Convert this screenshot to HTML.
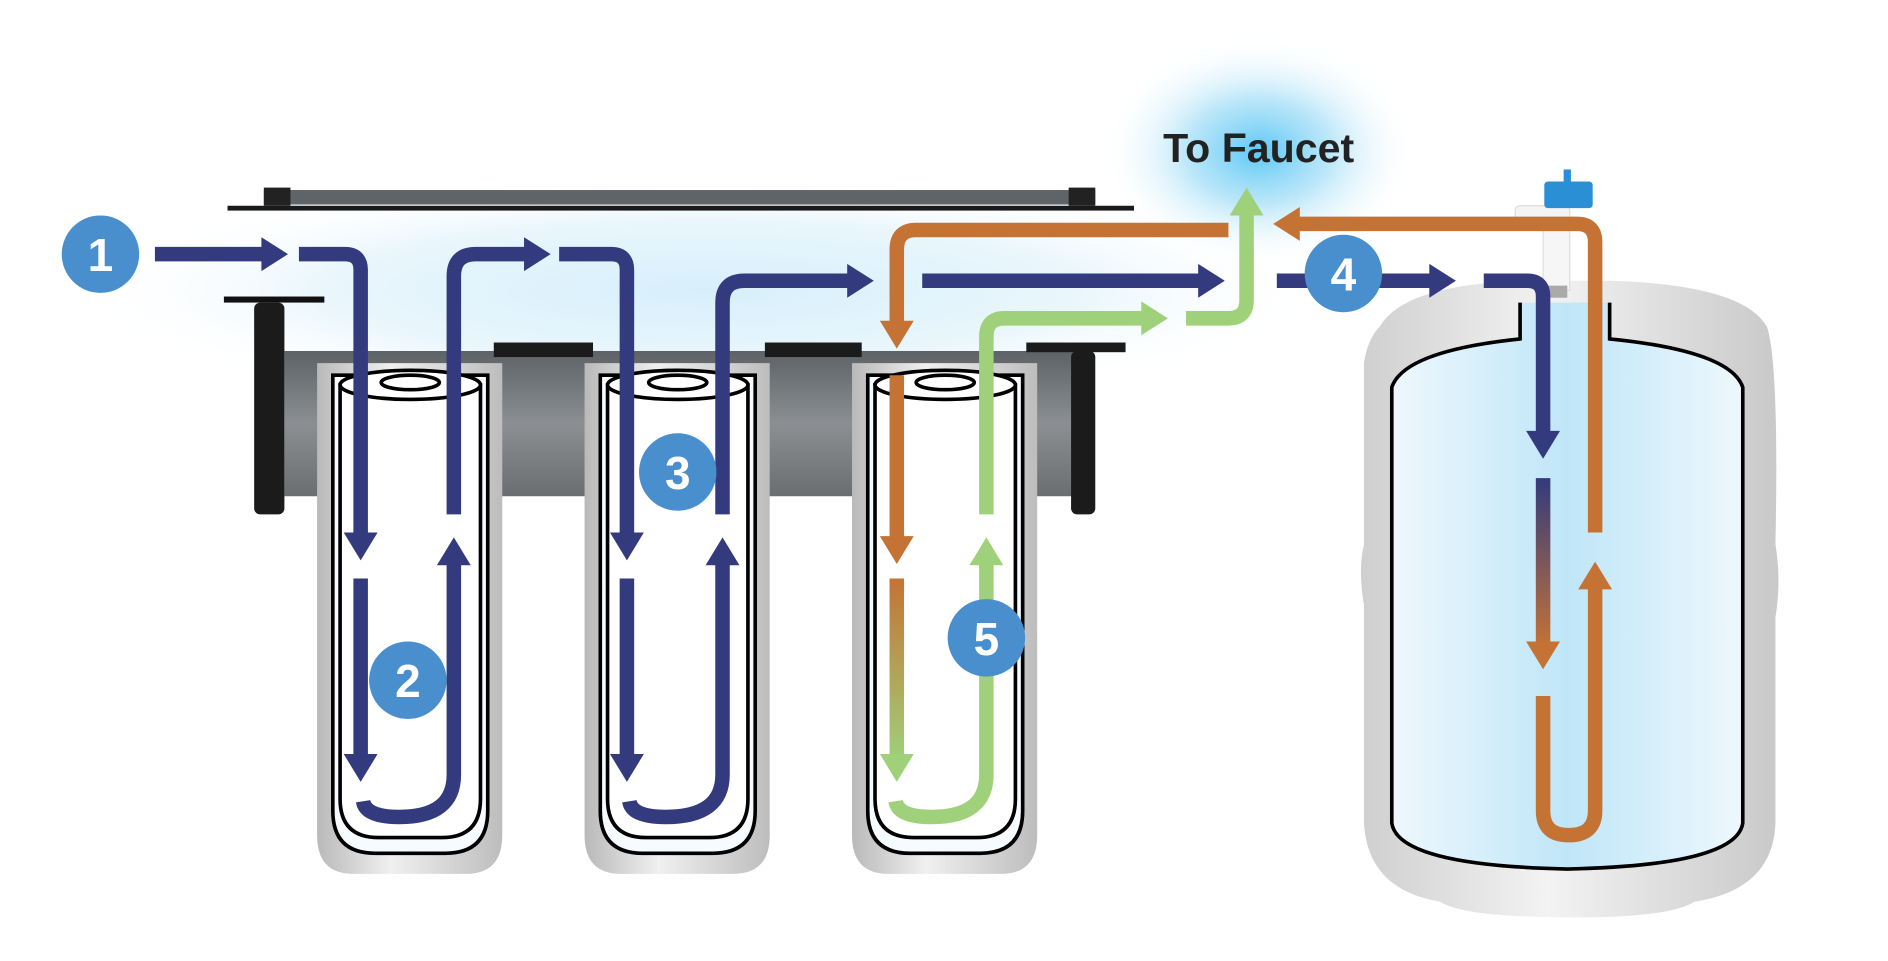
<!DOCTYPE html>
<html><head><meta charset="utf-8"><style>
html,body{margin:0;padding:0;background:#fff;width:1888px;height:961px;overflow:hidden}
svg{display:block}
.t{font-family:"Liberation Sans",sans-serif;font-weight:bold}
</style></head><body>
<svg width="1888" height="961" viewBox="0 0 1560 794" preserveAspectRatio="none" xmlns="http://www.w3.org/2000/svg">
<defs>
<radialGradient id="glow" cx="0.5" cy="0.5" r="0.5"><stop offset="0" stop-color="#5cc8f5"/><stop offset="0.45" stop-color="#a9e0f8" stop-opacity="0.8"/><stop offset="1" stop-color="#fff" stop-opacity="0"/></radialGradient>
<radialGradient id="fog" cx="0.5" cy="0.5" r="0.5"><stop offset="0" stop-color="#d6effb"/><stop offset="0.6" stop-color="#e4f4fc" stop-opacity="0.8"/><stop offset="1" stop-color="#fff" stop-opacity="0"/></radialGradient>
<linearGradient id="hous" x1="0" y1="0" x2="1" y2="0"><stop offset="0" stop-color="#b9b9b9"/><stop offset="0.4" stop-color="#f0f0f0"/><stop offset="1" stop-color="#bdbdbd"/></linearGradient>
<linearGradient id="tankg" x1="0" y1="0" x2="1" y2="0"><stop offset="0" stop-color="#cfcfcf"/><stop offset="0.45" stop-color="#f3f3f3"/><stop offset="1" stop-color="#c9c9c9"/></linearGradient>
<linearGradient id="tankin" x1="0" y1="0" x2="1" y2="0"><stop offset="0" stop-color="#eef8fd"/><stop offset="0.5" stop-color="#bfe6f8"/><stop offset="1" stop-color="#eef8fd"/></linearGradient>
<linearGradient id="brk" x1="0" y1="0" x2="0" y2="1"><stop offset="0" stop-color="#5d6266"/><stop offset="0.5" stop-color="#8b8f92"/><stop offset="1" stop-color="#6a6e71"/></linearGradient>
<linearGradient id="no" gradientUnits="userSpaceOnUse" x1="0" y1="395" x2="0" y2="535"><stop offset="0" stop-color="#333a7e"/><stop offset="1" stop-color="#c47335"/></linearGradient>
<linearGradient id="og" gradientUnits="userSpaceOnUse" x1="0" y1="478" x2="0" y2="630"><stop offset="0" stop-color="#c47335"/><stop offset="1" stop-color="#9fd17a"/></linearGradient>
</defs>
<ellipse cx="1040" cy="125" rx="130" ry="95" fill="url(#glow)"/>
<ellipse cx="580" cy="240" rx="520" ry="95" fill="url(#fog)"/>
<!-- top bar -->
<rect x="218" y="157" width="687" height="12" fill="#5f6468"/>
<rect x="218" y="155" width="22" height="15" fill="#222"/><rect x="883" y="155" width="22" height="15" fill="#222"/>
<rect x="188" y="170" width="749" height="4" fill="#1a1a1a"/>
<!-- bracket -->
<rect x="185" y="245" width="83" height="5" fill="#111"/>
<rect x="210" y="250" width="25" height="175" rx="5" fill="#1b1b1b"/>
<rect x="235" y="290" width="655" height="120" fill="url(#brk)"/>
<rect x="408" y="283" width="82" height="12" fill="#1b1b1b"/>
<rect x="632" y="283" width="80" height="12" fill="#1b1b1b"/>
<rect x="848" y="283" width="82" height="8" fill="#1b1b1b"/>
<rect x="885" y="290" width="20" height="135" rx="5" fill="#1b1b1b"/>
<!-- filters -->
<g id="f1">
<path d="M262,300 H415 V690 Q415,722 385,722 H292 Q262,722 262,690 Z" fill="url(#hous)"/>
<path d="M275,310 H403 V670 Q403,705 368,705 H310 Q275,705 275,670 Z" fill="#f5fbfe" stroke="#000" stroke-width="3"/>
<path d="M281,318 H397 V660 Q397,692 365,692 H313 Q281,692 281,660 Z" fill="#fff" stroke="#000" stroke-width="3"/>
<ellipse cx="339" cy="318" rx="58" ry="12" fill="#fff" stroke="#000" stroke-width="3"/>
<ellipse cx="339" cy="316" rx="24" ry="6" fill="#fff" stroke="#000" stroke-width="3"/>
</g>
<use href="#f1" x="221"/>
<use href="#f1" x="442"/>
<!-- tank -->
<path d="M1140,270 Q1160,235 1260,232 H1330 Q1440,235 1460,270 Q1470,300 1467,450 Q1472,480 1467,510 V680 Q1465,735 1400,745 Q1380,758 1300,758 Q1210,758 1190,745 Q1130,735 1127,680 V500 Q1122,470 1127,450 V300 Q1130,280 1140,270 Z" fill="url(#tankg)"/>
<path d="M1256,250 V280 Q1160,290 1150,320 V680 Q1155,715 1295,718 Q1435,715 1440,680 V320 Q1430,290 1330,280 V250" fill="url(#tankin)" stroke="#000" stroke-width="3"/>
<!-- valve -->
<rect x="1252" y="170" width="45" height="18" rx="4" fill="#f4f4f4" stroke="#ddd"/>
<rect x="1275" y="185" width="22" height="55" fill="#f6f6f6" stroke="#ddd"/>
<rect x="1277" y="236" width="18" height="10" fill="#aaa"/>
<rect x="1276" y="150" width="40" height="22" rx="3" fill="#2b8fd6"/>
<rect x="1292" y="140" width="6" height="12" fill="#2b8fd6"/>
<text x="1040" y="134" text-anchor="middle" class="t" font-size="34" fill="#222">To Faucet</text>
<!-- flow lines -->
<g fill="none" stroke-width="12">
<g stroke="#333a7e">
<path d="M128,210 H217"/>
<path d="M247,210 H285 Q298,210 298,223 V441"/>
<path d="M298,478 V624"/>
<path d="M300,662 Q302,675 330,675 Q375,675 375,640 V466"/>
<path d="M375,425 V228 Q375,210 393,210 H434"/>
<path d="M462,210 H505 Q518,210 518,223 V441"/>
<path d="M518,478 V624"/>
<path d="M520,662 Q522,675 550,675 Q597,675 597,640 V466"/>
<path d="M597,425 V250 Q597,232 615,232 H701"/>
<path d="M762,232 H991"/>
<path d="M1055,232 H1182"/>
<path d="M1226,232 H1262 Q1275,232 1275,245 V357"/>
</g>
<path stroke="url(#no)" d="M1275,395 V532"/>
<g stroke="#c47335">
<path d="M1275,575 V670 Q1275,690 1296,690 Q1318,690 1318,670 V486"/>
<path d="M1318,440 V200 Q1318,185 1303,185 H1073"/>
<path d="M1015,190 H757 Q741,190 741,206 V266"/>
<path d="M741,310 V444"/>
</g>
<path stroke="url(#og)" d="M741,478 V624"/>
<g stroke="#9fd17a">
<path d="M740,662 Q742,675 770,675 Q815,675 815,640 V466"/>
<path d="M815,425 V278 Q815,263 830,263 H944"/>
<path d="M980,263 H1015 Q1030,263 1030,248 V176"/>
</g>
</g>
<!-- arrowheads -->
<g fill="#333a7e">
<polygon points="238,210 216,196 216,224"/>
<polygon points="298,463 284,440 312,440"/>
<polygon points="298,646 284,623 312,623"/>
<polygon points="375,444 361,467 389,467"/>
<polygon points="455,210 433,196 433,224"/>
<polygon points="518,463 504,440 532,440"/>
<polygon points="518,646 504,623 532,623"/>
<polygon points="597,444 583,467 611,467"/>
<polygon points="722,232 700,218 700,246"/>
<polygon points="1012,232 990,218 990,246"/>
<polygon points="1203,232 1181,218 1181,246"/>
<polygon points="1275,379 1261,356 1289,356"/>
</g>
<g fill="#c47335">
<polygon points="1275,553 1261,530 1289,530"/>
<polygon points="1318,464 1304,487 1332,487"/>
<polygon points="1052,185 1074,171 1074,199"/>
<polygon points="741,288 727,265 755,265"/>
<polygon points="741,466 727,443 755,443"/>
</g>
<g fill="#9fd17a">
<polygon points="741,646 727,623 755,623"/>
<polygon points="815,444 801,467 829,467"/>
<polygon points="965,263 943,249 943,277"/>
<polygon points="1030,155 1016,178 1044,178"/>
</g>
<!-- numbers -->
<g fill="#4a8fcd">
<circle cx="83" cy="210" r="32"/><circle cx="337" cy="562" r="32"/><circle cx="560" cy="390" r="32"/><circle cx="1110" cy="226" r="32"/><circle cx="815" cy="527" r="32"/>
</g>
<g class="t" font-size="38" fill="#fff" text-anchor="middle">
<text x="83" y="224">1</text><text x="337" y="576">2</text><text x="560" y="404">3</text><text x="1110" y="240">4</text><text x="815" y="541">5</text>
</g>
</svg>
</body></html>
